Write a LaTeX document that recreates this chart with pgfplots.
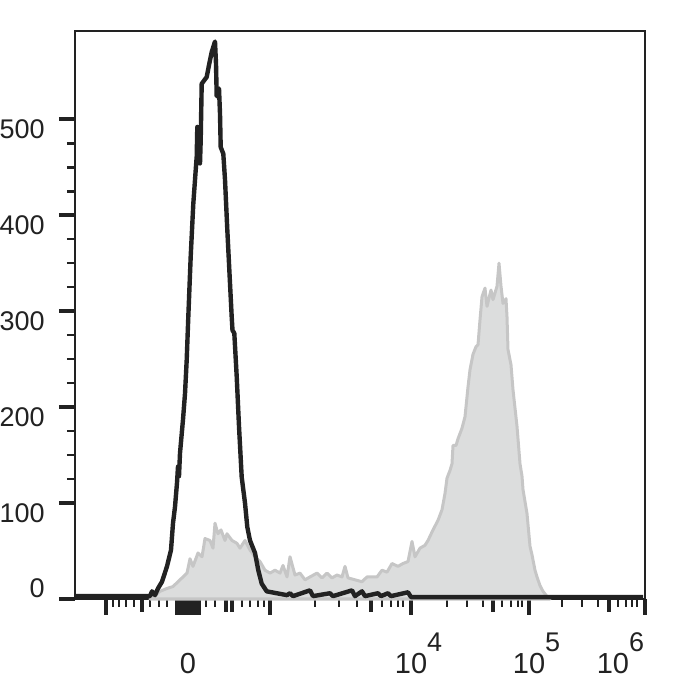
\documentclass[border=0pt]{standalone}
\usepackage{fontspec}
\setmainfont{Liberation Sans}
\usepackage{pgfplots}
\pgfplotsset{compat=1.18}
\definecolor{ink}{HTML}{222222}
\definecolor{gfill}{HTML}{DCDDDD}
\definecolor{gedge}{HTML}{C6C6C6}

\pgfplotstableread{
x y
150 0
153 2
160 8
167 11
173 13
180 20
187 27
190 42
193 34
198 48
202 44
205 63
210 61
213 53
215 79
218 68
221 72
225 61
227 68
232 61
237 58
240 53
245 61
250 51
255 44
260 39
265 30
270 27
275 30
280 27
283 35
287 23
290 44
295 25
300 27
305 20
310 23
317 27
322 22
327 27
332 22
337 25
342 23
345 34
348 22
355 20
362 18
367 23
377 23
382 30
387 28
392 37
398 34
403 37
408 39
412 60
415 44
420 53
425 56
428 61
433 72
438 82
442 93
445 110
447 126
450 134
452 141
453 160
456 160
458 167
462 178
465 190
468 221
470 239
473 255
476 263
478 265
480 291
482 315
485 324
487 305
491 322
493 312
497 326
499 350
501 326
503 308
506 313
507 294
508 260
511 244
513 218
517 180
520 141
522 128
523 114
527 89
530 55
532 46
535 30
537 23
540 14
543 8
546 4
550 0
}\graydata

\pgfplotstableread{
x y
75 3
150 3
152 8
155 4
158 11
162 18
167 34
171 51
173 79
175 96
177 121
178 138
179 128
180 152
183 187
185 214
186.7 249
188.3 294
190.7 357
193.3 412
195.7 447
196.7 461
197.3 492
200 454
200.7 478
201.7 537
206.7 544
209.3 558
211.7 570
215 581
216 558
216.7 524
219 532
220 506
220.7 471
223.3 464
225 437
227.3 385
230 329
231.7 294
232.5 280
234.3 277
236.7 232
239 180
241.7 127
245 100
247.3 75
250 61
255 48
258.3 30
261.7 16
266.7 8
271.7 7
276.7 6
287 4
290 6
293 3
310 9
313 3
330 6
333 3
352 9
355 3
362 8
365 3
378 6
381 3
388 6
391 3
408 7
411 2
643 2
}\blackdata

\begin{document}
\begin{tikzpicture}
\path[use as bounding box] (-37.5pt,-50.5pt) rectangle (312.5pt,299.5pt);
\begin{axis}[
  at={(0,0)}, anchor=south west,
  scale only axis, width=285pt, height=284pt,
  xmin=75, xmax=645, ymin=0, ymax=592,
  axis line style={ink, line width=0.8pt},
  tick align=outside,
  xtick pos=bottom, ytick pos=left,
  major tick length=8pt, minor tick length=4pt,
  every major tick/.append style={ink, line width=2pt},
  every minor tick/.append style={ink, line width=1.3pt},
  ytick={100,200,300,400,500},
  minor y tick num=3,
  extra y ticks={0},
  extra y tick style={yticklabel style={yshift=10.5pt}},
  yticklabel style={font=\fontsize{13.5}{15}\selectfont, text=ink, anchor=east, inner sep=0pt, xshift=-7pt, yshift=-5pt},
  /pgf/number format/assume math mode=true,
  xtick={106,177,179,181,183,185,188,191,193,195,197,199,270,411,529,645},
  xticklabels={{},{},{},{},{},{},0,{},{},{},{},{},{},{10\rlap{\fontsize{13.5}{14}\selectfont\raisebox{11pt}{4}}},{10\rlap{\fontsize{13.5}{14}\selectfont\raisebox{11pt}{5}}},{\llap{10\rlap{\fontsize{13.5}{14}\selectfont\raisebox{11pt}{6}}\kern8pt}}},
  xticklabel style={font=\fontsize{14.5}{16}\selectfont, text=ink, anchor=base, inner sep=0pt, yshift=-29pt},
  minor xtick={113,119,126,134,150,159,167,206,215,242,250,258,264,315,339,357,382,391,398,403,447,467,483,502,511,518,522,562,582,598,618,626,632,637},
  extra x ticks={142,226,232,371,493,609},
  extra x tick style={major tick length=6.5pt},
  extra x tick labels={},
  clip=false,
]
\addplot[draw=gedge, line width=1.5pt, fill=gfill, line join=round] table[x=x,y=y] {\graydata} \closedcycle;
\addplot[ink, line width=2.2pt, line join=round] table[x=x,y=y] {\blackdata};
\end{axis}
\end{tikzpicture}
\end{document}
